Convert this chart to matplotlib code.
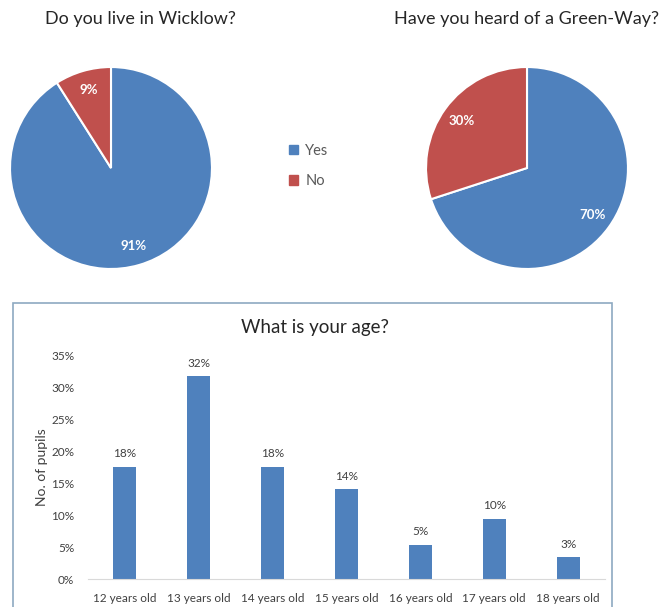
import matplotlib.pyplot as plt
from matplotlib.patches import Rectangle, Patch

plt.rcParams['font.family'] = ['Lato', 'DejaVu Sans']

W, H = 662, 607

# pie data
answers = ["Yes", "No"]
wicklow = [91, 9]
greenway = [70, 30]
pie_colors = ["#4F81BD", "#C0504D"]

# age data
ages = ["12 years old", "13 years old", "14 years old", "15 years old",
        "16 years old", "17 years old", "18 years old"]
age_share = [17.6, 31.8, 17.6, 14.1, 5.4, 9.4, 3.4]
age_labels = ["18%", "32%", "18%", "14%", "5%", "10%", "3%"]
y_ticks = [0, 5, 10, 15, 20, 25, 30, 35]


def px_axes(fig, x0, y0, x1, y1):
   # pixel box (top-left origin) -> figure axes
   return fig.add_axes([x0 / W, 1 - y1 / H, (x1 - x0) / W, (y1 - y0) / H])


def draw_pie(ax, values, title, tx):
   ax.pie(values, colors=pie_colors, startangle=90, counterclock=False,
      autopct=lambda p: f"{p:.0f}%", pctdistance=0.8,
      wedgeprops=dict(edgecolor="white", linewidth=1.5),
      textprops=dict(color="white", fontsize=9.5, fontweight="bold"))
   ax.set_xlim(-1.02, 1.02)
   ax.set_ylim(-1.02, 1.02)
   ax.set_aspect("equal")
   fig.text(tx / W, 1 - 19 / H, title, ha="center", va="center",
      fontsize=13, color="#262626")


fig = plt.figure(figsize=(W / 100, H / 100), dpi=100)

ax1 = px_axes(fig, 8, 65, 214, 271)
draw_pie(ax1, wicklow, "Do you live in Wicklow?", 140)

ax2 = px_axes(fig, 424, 65, 630, 271)
draw_pie(ax2, greenway, "Have you heard of a Green-Way?", 526)

# legend
handles = [Patch(color=c, label=a) for a, c in zip(answers, pie_colors)]
fig.legend(handles=handles, loc="center left",
   bbox_to_anchor=(276 / W, 1 - 166 / H), frameon=False,
   fontsize=10.5, labelcolor="#595959", handlelength=0.6, handleheight=0.6,
   handletextpad=0.5, labelspacing=1.1)

# frame around the bar chart
fig.patches.append(Rectangle((13 / W, -0.01), (612 - 13) / W, 1 - 303 / H + 0.01,
   transform=fig.transFigure, fill=False, edgecolor="#8EA9C1", linewidth=1.2))

ax3 = px_axes(fig, 88, 356, 605, 579)
x = range(len(ages))
bars = ax3.bar(x, age_share, width=0.31, color="#4F81BD")
for b, lab in zip(bars, age_labels):
   ax3.text(b.get_x() + b.get_width() / 2, b.get_height() + 1.2, lab,
      ha="center", va="bottom", fontsize=8.5, color="#404040")
ax3.set_xlim(-0.5, len(ages) - 0.5)
ax3.set_ylim(0, 35)
ax3.set_yticks(y_ticks)
ax3.set_yticklabels([f"{t}%" for t in y_ticks])
ax3.set_xticks(list(x))
ax3.set_xticklabels(ages)
ax3.tick_params(axis="both", length=0, labelsize=8.5, colors="#404040")
ax3.tick_params(axis="y", pad=10)
ax3.tick_params(axis="x", pad=10)
for s in ["top", "right", "left"]:
   ax3.spines[s].set_visible(False)
ax3.spines["bottom"].set_color("#D9D9D9")
ax3.set_ylabel("No. of pupils", fontsize=10, color="#404040", labelpad=2)
fig.text(315 / W, 1 - 327 / H, "What is your age?", ha="center", va="center",
   fontsize=13.5, color="#262626")

plt.savefig("out.png", dpi=100)
